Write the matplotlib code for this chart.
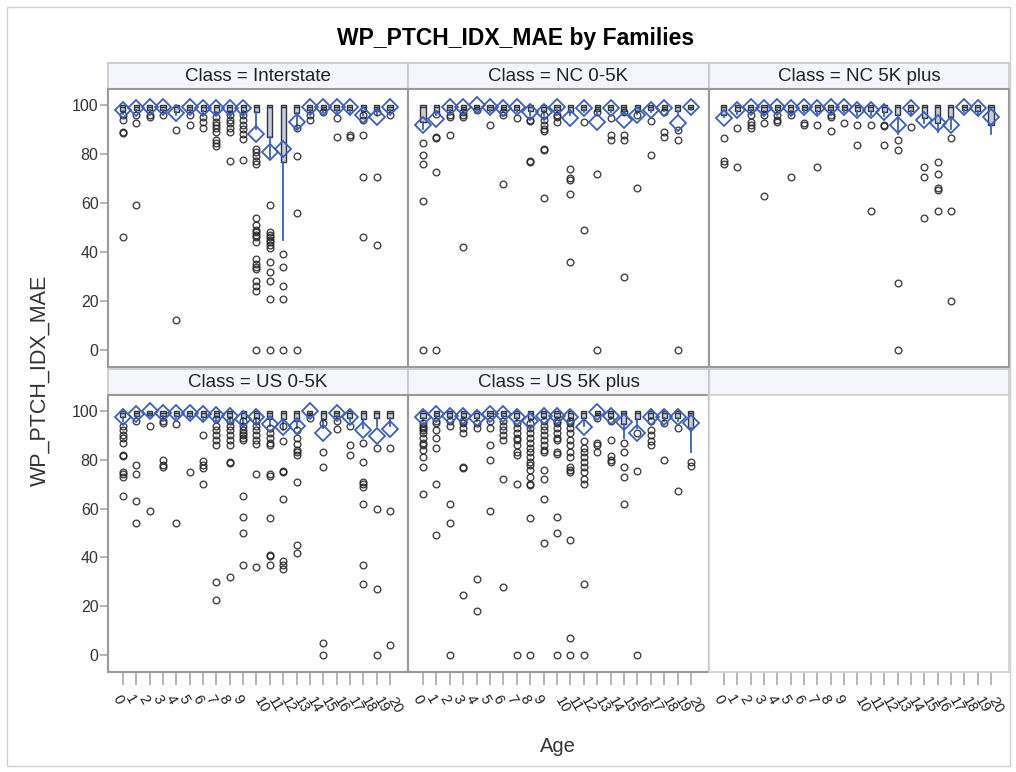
import matplotlib
matplotlib.use('Agg')
import matplotlib.pyplot as plt
import matplotlib.transforms as mtransforms
import numpy as np

# ==========================================================================
#  Dati (WP_PTCH_IDX_MAE per eta', per classe)
ages = list(range(21))
classes = ['Interstate', 'NC 0-5K', 'NC 5K plus', 'US 0-5K', 'US 5K plus']

# --- Interstate
int_mean = [98, 98.6, 99.3, 99.3, 96.6, 99.3, 98.6, 98.6, 98.6, 98.6, 88.2, 81, 82,
            93, 99, 99, 99, 99, 96, 95.2, 99.3]
int_q1 = [97.5, 98, 98, 98, 97, 98, 97.5, 97, 97.5, 97.5, 97.3, 86.8, 76.9, 96.7,
          98, 98, 98, 98, 97.5, 97.5, 98]
int_lo = [96.5, 97, 97, 97, 96, 97, 96, 96, 96, 96, 90, 78, 45, 90.6, 97, 97, 96.5,
          96.5, 96, 96, 97]
int_out = [[96, 94, 89, 88.5, 46], [96, 92.5, 59], [96, 95], [96], [89.8, 12.2],
           [96, 92], [95, 93, 90.5], [95, 93, 92, 90.5, 89, 85.7, 84.5, 83.3],
           [96, 94, 92.5, 90.5, 89, 77], [96, 94, 92, 90, 88, 86, 77.5],
           [82, 81, 79, 77, 76, 54, 51, 49, 48, 47, 46, 44, 37, 35, 34, 33, 28, 26, 24, 0],
           [59, 48, 47, 46, 45, 44, 43, 41.5, 36, 32, 28, 21, 0],
           [39, 34, 26, 21, 0], [90.5, 79, 56, 0], [96, 94], [97], [94.5, 86.8],
           [87.8, 87], [96, 94, 87.8, 70.7, 46], [97, 70.7, 43], [96]]

# --- NC 0-5K
nc0_mean = [91.8, 94.1, 99.3, 99.3, 100, 99.3, 98.6, 99.3, 97.3, 97.3, 99.3, 94.6,
            98.6, 93, 98.6, 93.9, 96, 98, 98.8, 92.8, 99.3]
nc0_q1 = [93, 97, 98, 98, 98.5, 98, 98, 98, 97.5, 97.5, 98, 97, 98, 97.5, 98, 97.5,
          97.5, 98, 98, 97.5, 98.5]
nc0_lo = [90, 96, 97, 97, 98, 97, 97, 97, 96, 96, 97, 96, 97, 96, 97, 96, 96.5, 97,
          97.5, 96, 98]
nc0_out = [[84.6, 79.6, 75.8, 60.8, 0], [96.5, 86.8, 86.5, 72.8, 0], [96, 95, 87.8],
           [97, 96, 95, 42], [98], [91.8], [97, 96, 67.8], [94.6], [94, 93.5, 77, 76.8],
           [96, 94, 92, 90, 89.5, 82, 81.5, 62], [96, 95, 93.2],
           [73.7, 70, 69.5, 63.7, 36], [93.2, 49], [97, 71.8, 0], [94.6, 87.8, 85.7],
           [97, 87.8, 85.7, 30], [96, 66], [93.6, 79.6], [97, 89, 87],
           [89.8, 85.7, 0], []]

# --- NC 5K plus
nc5_mean = [94.6, 98, 99.3, 98.6, 99.3, 98.6, 99.3, 98.6, 99.3, 99.3, 98, 98, 97.3,
            91.8, 98.6, 93.9, 92.5, 92, 99.3, 98.6, 95.2]
nc5_q1 = [96, 97.5, 98, 97.5, 98, 97.5, 98, 97.5, 98, 98, 97.5, 97.5, 97, 96, 97.5,
          94.6, 92.5, 95.2, 98, 97.5, 91.8]
nc5_lo = [95, 96.5, 97, 96.5, 97, 96.5, 97, 96.5, 97, 97, 96, 96, 95.5, 88, 96.5,
          92.6, 89, 90, 97, 96, 88]
nc5_out = [[86.7, 77, 76], [90.7, 74.8], [96, 93, 92, 90.5], [96, 92.5, 62.9],
           [96, 94, 93.2], [96, 70.7], [92.5, 91.8], [91.8, 74.8], [96, 95, 89.5],
           [92.8], [91.8, 83.7], [91.8, 56.7], [92, 91.5, 83.7], [85.7, 81.6, 27.2, 0],
           [91], [74.8, 70.7, 54], [76.9, 71.7, 66, 65.5, 56.7], [86.7, 56.7, 20],
           [], [], []]

# --- US 0-5K
us0_mean = [97.5, 98.8, 100, 99.3, 99.3, 99.3, 98.8, 98.4, 97.7, 96.7, 97.4, 94.6,
            93.3, 94, 100, 91, 99.3, 97.4, 92, 89.6, 92.6]
us0_q1 = [97.5, 98, 98.5, 98, 98, 98, 97.5, 97.5, 97.5, 97, 97, 96.5, 96.5, 95.8,
          98.5, 96.5, 98, 97, 96.5, 97, 97]
us0_lo = [96, 97, 98, 97, 97, 97, 96, 96, 96, 95, 95.5, 94, 92, 93, 98, 93, 97,
          96, 93, 94, 94]
us0_out = [[94, 92, 90.3, 89, 87, 82, 81.5, 75, 74, 73, 65], [96, 78, 74, 63, 54],
           [94, 59], [96, 95, 80, 78, 77], [94.6, 54], [75], [90, 79.6, 78, 76.8, 70],
           [96.5, 94, 92, 90, 88, 86, 30, 22.7], [96, 94, 92, 90, 88, 86, 79, 78.5, 32],
           [96, 94, 92, 91, 90, 89, 88, 65, 56.7, 50, 37],
           [96, 94, 92, 90, 88, 86.5, 74, 36],
           [93, 91, 89, 87, 86, 74, 73.5, 56, 41, 40.5, 37],
           [94, 87.8, 75.5, 75, 64, 38.5, 37, 35.4],
           [92, 89, 86.5, 84, 83, 82, 71, 45, 42], [97], [95, 83, 77, 5, 0],
           [96, 92.6], [94, 86, 82], [87, 79, 71, 70, 69, 62, 37, 29],
           [84.6, 60, 26.9, 0], [85, 59, 4]]

# --- US 5K plus
us5_mean = [97.4, 98.8, 98, 98, 97, 98.8, 98.8, 97.4, 96, 98, 97.7, 97.4, 93.3, 99.6,
            98, 95.3, 91, 97.4, 97.4, 97.4, 95]
us5_q1 = [97, 98, 97.5, 97.5, 97, 98, 98, 97, 96.5, 97.5, 97.5, 97, 97, 98.5, 97.5,
          94.6, 96.5, 97, 97, 97, 93]
us5_lo = [96, 97, 96.5, 96.5, 96, 97, 97, 96, 95.5, 96.5, 96.5, 96, 94, 98, 96.5,
          89, 93, 96.5, 96, 96, 83]
us5_out = [[95, 94, 93, 92, 91, 89, 87, 86, 84, 81, 77, 66],
           [96, 95, 92, 89, 85, 70, 49], [96, 94, 62, 54, 0],
           [96, 95, 93, 91, 77, 76.5, 24.8], [95, 93, 31, 18], [96, 93, 86, 80, 59],
           [96, 94, 92, 90, 88, 72, 28], [95, 93, 91, 89, 88, 86, 83, 82, 70, 0],
           [95, 93, 91, 89, 87, 85, 83, 81, 79, 78, 76, 73, 70, 69.5, 56, 0],
           [96, 94, 92, 90, 88, 86, 84, 83, 76, 72, 64, 46],
           [96, 95, 93, 91, 89, 88, 83, 82.5, 56.7, 50, 0],
           [96, 95, 93, 91, 88, 86, 83, 81, 77, 76, 75, 47, 7, 0],
           [87.8, 85, 83, 81, 79, 77, 75, 72, 70, 29, 0], [97, 87, 86, 83],
           [96, 88, 81.6, 80, 79], [86.8, 83, 77, 73, 62], [91, 75.5, 0],
           [96, 92, 90, 87.5, 86], [95, 80], [93, 67], [79, 77.5]]

box_med = 99.3
box_hi = 100

panel_data = [(int_mean, int_q1, int_lo, int_out),
              (nc0_mean, nc0_q1, nc0_lo, nc0_out),
              (nc5_mean, nc5_q1, nc5_lo, nc5_out),
              (us0_mean, us0_q1, us0_lo, us0_out),
              (us5_mean, us5_q1, us5_lo, us5_out)]

# ==========================================================================
#  Layout (pixel) e stile
W, H = 1016, 772
plt.rcParams['font.family'] = ['Liberation Sans', 'DejaVu Sans']
fig = plt.figure(figsize=(W/100, H/100), dpi=100)

def rect(x0, y0, x1, y1):
    return [x0/W, 1 - y1/H, (x1 - x0)/W, (y1 - y0)/H]

cols = [(108, 408), (408, 709), (709, 1009)]
rows = [((63, 89), (89, 367)), ((369, 395), (395, 672))]

blue = '#3a5fc0'
frame_col = '#9a9a9a'
head_col = '#f4f6fc'
tick_col = '#a8a8a8'

# cornice esterna
fig.patches.append(plt.Rectangle((7/W, 1 - 766/H), 1003/W, 759/H, transform=fig.transFigure,
                                 fill=False, ec='#d0d0d0', lw=1))

fig.text(516/W, 1 - 38/H, 'WP_PTCH_IDX_MAE by Families', ha='center', va='center',
         fontsize=16.5, fontweight='bold')
fig.text(40/W, 1 - 380/H, 'WP_PTCH_IDX_MAE', rotation=90, ha='center', va='center',
         fontsize=15.5, color='#333333')
fig.text(558/W, 1 - 746/H, 'Age', ha='center', va='center', fontsize=14.5, color='#333333')

for k in range(6):
    r, c = divmod(k, 3)
    (hy0, hy1), (py0, py1) = rows[r]
    x0, x1 = cols[c]
    # intestazione
    axh = fig.add_axes(rect(x0, hy0, x1, hy1))
    axh.set_facecolor(head_col)
    axh.set_xticks([])
    axh.set_yticks([])
    for s in axh.spines.values():
        s.set_color('#c8c8c8')
        s.set_linewidth(1.2)
    ax = fig.add_axes(rect(x0, py0, x1, py1))
    ax.set_xlim(-1.12, 21.35)
    ax.set_ylim(-6.9, 106.5)
    if k < 5:
        axh.text(0.5, 0.48, 'Class = ' + classes[k], ha='center', va='center',
                 fontsize=13.5, color='#222222', transform=axh.transAxes)
        mean, q1, lo, out = panel_data[k]
        stats = []
        for i in ages:
            stats.append(dict(med=max(box_med, q1[i]), q1=q1[i], q3=box_hi,
                              whislo=lo[i], whishi=box_hi, mean=mean[i],
                              fliers=np.array(out[i])))
        ax.bxp(stats, positions=ages, widths=0.38, showmeans=True, showcaps=False,
               patch_artist=True, manage_ticks=False,
               boxprops=dict(facecolor='#c3cde2', edgecolor='#333333', lw=1),
               medianprops=dict(color='#333333', lw=1),
               whiskerprops=dict(color=blue, lw=1.3),
               meanprops=dict(marker='D', markersize=8, markerfacecolor='none',
                              markeredgecolor=blue, markeredgewidth=1.3),
               flierprops=dict(marker='o', markersize=4.8, markerfacecolor='none',
                               markeredgecolor='#222222', markeredgewidth=1.0,
                               alpha=0.85))
        for s in ax.spines.values():
            s.set_color(frame_col)
            s.set_linewidth(1.5)
    else:
        for s in ax.spines.values():
            s.set_color('#d0d0d0')
            s.set_linewidth(1.2)
    # asse y solo nella prima colonna
    if c == 0:
        ax.set_yticks([0, 20, 40, 60, 80, 100])
        ax.tick_params(axis='y', length=6, color=tick_col, width=1.2, labelsize=11.5,
                       labelcolor='#333333', pad=0.8)
    else:
        ax.set_yticks([])
    # asse x solo nella riga in basso (anche il pannello vuoto)
    ax.set_xticks(ages)
    if r == 1:
        ax.tick_params(axis='x', length=9, color=tick_col, width=1.2)
        ax.set_xticklabels([])
        for a in ages:
            lab = str(a)
            dx = -5.5 if len(lab) == 1 else 5.0
            dy = -27.5 if len(lab) == 1 else -33.0
            off = mtransforms.ScaledTranslation(dx/100, dy/100, fig.dpi_scale_trans)
            ax.text(a, 0, lab, transform=ax.get_xaxis_transform() + off,
                    rotation=-60, rotation_mode='anchor', ha='center', va='center',
                    fontsize=10.5, color='#222222')
    else:
        ax.tick_params(axis='x', length=0, labelbottom=False)

fig.savefig('out.png', dpi=100)
